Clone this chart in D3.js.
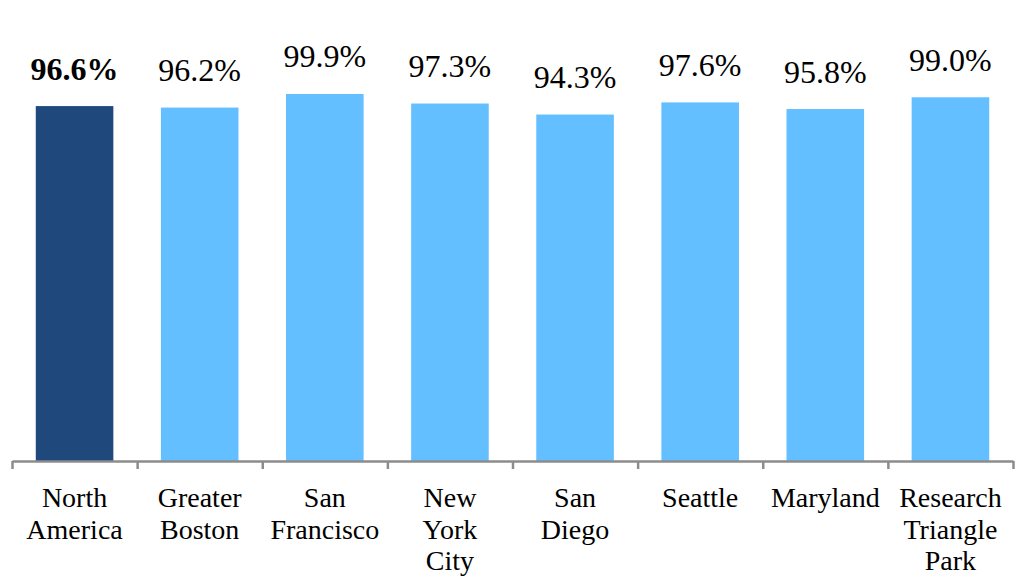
<!DOCTYPE html>
<meta charset="utf-8">
<head>
    <style>
        body{
            margin: 0;
            background-color: #ffffff;
        }
        .axis path, .axis line{
            stroke: #8c8c8c;
            stroke-width: 2.5;
        }
        .lbl{
            font-family: "Liberation Serif", "Times New Roman", serif;
            fill: #000000;
        }
    </style>
</head>
<body>
<div id="chart"></div>

<script src="https://d3js.org/d3.v7.min.js"></script>
<script>
    // data
    const regions = ["North America", "Greater Boston", "San Francisco", "New York City",
        "San Diego", "Seattle", "Maryland", "Research Triangle Park"];
    const regionLines = [["North", "America"], ["Greater", "Boston"], ["San", "Francisco"],
        ["New", "York", "City"], ["San", "Diego"], ["Seattle"], ["Maryland"],
        ["Research", "Triangle", "Park"]];
    const rates = [96.6, 96.2, 99.9, 97.3, 94.3, 97.6, 95.8, 99.0];
    const labels = ["96.6%", "96.2%", "99.9%", "97.3%", "94.3%", "97.6%", "95.8%", "99.0%"];

    const width = 1023, height = 585;
    const left = 12, right = 1013, baseY = 461;

    const svg = d3.select("#chart")
        .append("svg")
        .attr("width", width)
        .attr("height", height);

    const x = d3.scaleBand()
        .domain(regions)
        .range([left, right])
        .paddingInner(0.38)
        .paddingOuter(0.19);

    // edges between categories, for the ticks
    const xEdge = d3.scaleLinear()
        .domain([0, regions.length])
        .range([left, right]);

    const y = d3.scaleLinear()
        .domain([0, 100])
        .range([baseY, 93.6]);

    // bars
    svg.append("g")
        .selectAll("rect")
        .data(regions)
        .join("rect")
        .attr("x", d => x(d))
        .attr("y", (d, i) => y(rates[i]))
        .attr("width", x.bandwidth())
        .attr("height", (d, i) => baseY - y(rates[i]))
        .attr("fill", (d, i) => i === 0 ? "#1f497d" : "#63bfff");

    // axis
    svg.append("g")
        .attr("class", "axis")
        .attr("transform", `translate(0, ${baseY})`)
        .call(d3.axisBottom(xEdge)
            .tickValues(d3.range(regions.length + 1))
            .tickSizeInner(8)
            .tickSizeOuter(0)
            .tickFormat(""));

    // value labels
    svg.append("g")
        .selectAll("text")
        .data(regions)
        .join("text")
        .attr("class", "lbl")
        .attr("x", d => x(d) + x.bandwidth() / 2)
        .attr("y", (d, i) => y(rates[i]) - 26.5)
        .attr("text-anchor", "middle")
        .attr("font-size", "32px")
        .attr("font-weight", (d, i) => i === 0 ? "bold" : "normal")
        .text((d, i) => labels[i]);

    // category labels
    const cat = svg.append("g")
        .selectAll("text")
        .data(regions)
        .join("text")
        .attr("class", "lbl")
        .attr("x", d => x(d) + x.bandwidth() / 2)
        .attr("y", 506.7)
        .attr("text-anchor", "middle")
        .attr("font-size", "28px");

    cat.selectAll("tspan")
        .data((d, i) => regionLines[i])
        .join("tspan")
        .attr("x", function() { return d3.select(this.parentNode).attr("x"); })
        .attr("dy", (d, i) => i === 0 ? 0 : 31.8)
        .text(d => d);
</script>
</body>
